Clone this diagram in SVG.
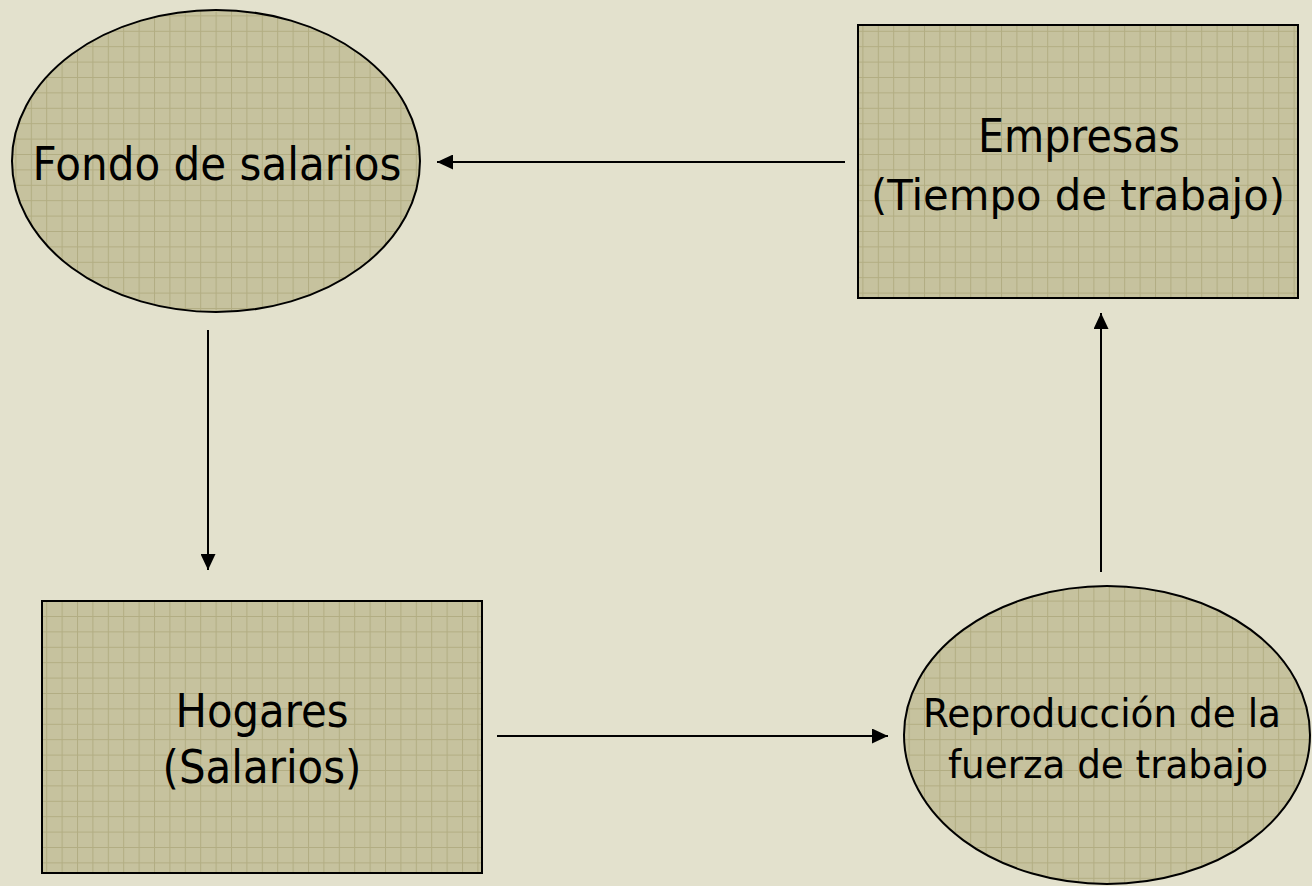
<svg xmlns="http://www.w3.org/2000/svg" width="1312" height="886" viewBox="0 0 1312 886">
  <defs>
    <pattern id="grid" patternUnits="userSpaceOnUse" width="15.4" height="15.4">
      <rect width="15.4" height="15.4" fill="#c6c29e"/>
      <path d="M0 0.5H15.4M0.5 0V15.4" stroke="#b2ad82" stroke-width="1" fill="none"/>
    </pattern>
    <marker id="arrow" viewBox="0 0 16 15" refX="16" refY="7.5" markerWidth="16" markerHeight="15" markerUnits="userSpaceOnUse" orient="auto">
      <path d="M0 0L16 7.5L0 15Z" fill="#000"/>
    </marker>
    <style>
      .shape { fill: url(#grid); stroke: #000; stroke-width: 2; }
      .label { font-family: "DejaVu Sans", Verdana, sans-serif; font-size: 46px; fill: #000; text-anchor: middle; }
      .small { font-size: 39px; }
      .mid { font-size: 43px; }
      .conn { stroke: #000; stroke-width: 2; fill: none; marker-end: url(#arrow); }
    </style>
  </defs>
  <rect width="1312" height="886" fill="#e3e1cd"/>

  <g id="fondo">
    <ellipse class="shape" cx="216" cy="161" rx="204" ry="151"/>
    <text class="label" x="217" y="180" textLength="369" lengthAdjust="spacingAndGlyphs">Fondo de salarios</text>
  </g>

  <g id="empresas">
    <rect class="shape" x="858" y="25" width="440" height="273"/>
    <text class="label" x="1079" y="152" textLength="202" lengthAdjust="spacingAndGlyphs">Empresas</text>
    <text class="label mid" x="1078" y="210" textLength="414" lengthAdjust="spacingAndGlyphs">(Tiempo de trabajo)</text>
  </g>

  <g id="hogares">
    <rect class="shape" x="42" y="601" width="440" height="272"/>
    <text class="label" x="262" y="727" textLength="173" lengthAdjust="spacingAndGlyphs">Hogares</text>
    <text class="label" x="262" y="783" textLength="199" lengthAdjust="spacingAndGlyphs">(Salarios)</text>
  </g>

  <g id="reproduccion">
    <ellipse class="shape" cx="1107" cy="735" rx="203" ry="149"/>
    <text class="label small" x="1102" y="727" textLength="358" lengthAdjust="spacingAndGlyphs">Reproducción de la</text>
    <text class="label small" x="1108" y="778" textLength="320" lengthAdjust="spacingAndGlyphs">fuerza de trabajo</text>
  </g>

  <g id="connectors">
    <line class="conn" x1="845" y1="162" x2="437" y2="162"/>
    <line class="conn" x1="208" y1="330" x2="208" y2="570"/>
    <line class="conn" x1="497" y1="736" x2="888" y2="736"/>
    <line class="conn" x1="1101" y1="572" x2="1101" y2="313"/>
  </g>
</svg>
